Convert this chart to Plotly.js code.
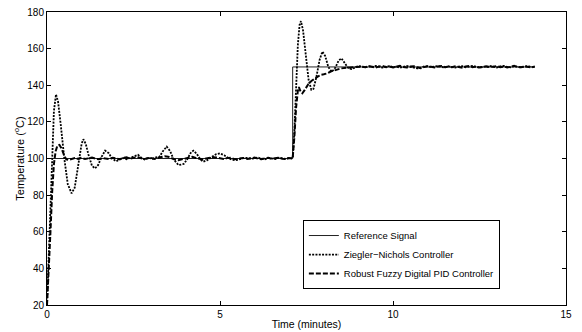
<!DOCTYPE html>
<html>
<head>
<meta charset="utf-8">
<script src="https://cdn.plot.ly/plotly-3.0.1.min.js"></script>
<style>html,body{margin:0;padding:0;background:#fff;}#chart{width:582px;height:332px;}</style>
</head>
<body>
<div id="chart"></div>
<script>
// Reference signal
var refTime = [0, 7.1, 7.1, 14.1];
var refTemp = [100, 100, 150, 150];

// Ziegler-Nichols controller response
var znTime = [0,0.05,0.1,0.15,0.2,0.26,0.32,0.4,0.5,0.6,0.71,0.8,0.9,1.0,1.05,1.12,1.2,1.3,1.39,1.48,1.58,1.68,1.78,1.88,2.0,2.1,2.2,2.3,2.4,2.5,2.63,2.72,2.82,2.95,3.05,3.15,3.25,3.35,3.46,3.56,3.66,3.8,3.95,4.05,4.15,4.23,4.33,4.43,4.52,4.62,4.75,4.88,5.0,5.12,5.25,5.35,5.45,5.6,5.7,5.8,5.9,6.0,6.1,6.2,6.3,6.4,6.5,6.6,6.7,6.8,6.9,7.0,7.1,
  7.15,7.2,7.25,7.3,7.34,7.4,7.48,7.56,7.64,7.7,7.78,7.88,7.96,8.04,8.13,8.23,8.33,8.43,8.51,8.6,8.7,8.8,8.9,9.0,
  9.1,9.2,9.3,9.4,9.5,9.6,9.7,9.8,9.9,10.0,10.1,10.2,10.3,10.4,10.5,10.6,10.7,10.8,10.9,11.0,11.1,11.2,11.3,11.4,11.5,11.6,11.7,11.8,11.9,12.0,12.1,12.2,12.3,12.4,12.5,12.6,12.7,12.8,12.9,13.0,13.1,13.2,13.3,13.4,13.5,13.6,13.7,13.8,13.9,14.0,14.1];
var znTemp = [20,45,75,105,126,135,131,118,100,86,81,84,96,108,110.5,108,102,96,94.6,96.5,101,104.3,103,100,98.5,99.2,100.3,99.6,100.2,100.8,102,100.5,99.5,100.4,99.8,100.6,101,104,106.5,104,99.5,96.4,97,99.5,103,104.3,102.5,99.5,98.3,99,100.8,102.3,102.8,101.8,100.2,99.3,99,99.8,100.3,100.4,99.8,100.2,100.5,99.9,99.6,100.3,100.1,99.7,100.4,100.2,99.8,100.3,100,
  115,140,162,173,175,170,157,143,137.5,138,144,154,158.4,156,150,147.3,149.5,153.5,154.7,152.5,149.5,148.8,149.8,150.5,
  150.3,149.7,150.4,149.9,150.6,150.1,149.6,150.2,150.5,149.8,150.3,149.6,150.1,150.6,150,149.7,149.2,149.5,150.3,150.4,149.9,150.2,150.5,150,149.7,150.3,150.1,149.6,150.2,150.4,149.8,150.3,150.6,150,149.6,150.2,149.9,150.5,150.1,149.7,150.3,150.6,150,149.8,150.4,150.1,149.7,150.2,150.5,149.9,150.2];

// Robust fuzzy digital PID controller response
var fzTime = [0,0.05,0.1,0.15,0.2,0.25,0.3,0.36,0.42,0.5,0.56,0.62,0.7,
  0.8,0.9,1.0,1.1,1.2,1.3,1.4,1.5,1.6,1.7,1.8,1.9,2.0,2.1,2.2,2.3,2.4,2.5,2.6,2.7,2.8,2.9,3.0,3.1,3.2,3.3,3.4,3.5,3.6,3.7,3.8,3.9,4.0,4.1,4.2,4.3,4.4,4.5,4.6,4.7,4.8,4.9,5.0,5.1,5.2,5.3,5.4,5.5,5.6,5.7,5.8,5.9,6.0,6.1,6.2,6.3,6.4,6.5,6.6,6.7,6.8,6.9,7.0,7.1,
  7.15,7.2,7.25,7.28,7.33,7.38,7.45,7.55,7.65,7.75,7.9,8.0,8.1,8.2,8.35,8.5,8.65,8.8,9.0,
  9.1,9.2,9.3,9.4,9.5,9.6,9.7,9.8,9.9,10.0,10.1,10.2,10.3,10.4,10.5,10.6,10.7,10.8,10.9,11.0,11.1,11.2,11.3,11.4,11.5,11.6,11.7,11.8,11.9,12.0,12.1,12.2,12.3,12.4,12.5,12.6,12.7,12.8,12.9,13.0,13.1,13.2,13.3,13.4,13.5,13.6,13.7,13.8,13.9,14.0,14.1];
var fzTemp = [20,38,60,82,97,104,107,107.4,105.5,101.5,99.5,99.2,99.8,
  100.3,99.8,100.4,99.7,100.2,100.5,99.9,99.6,100.3,100.1,99.7,100.4,100,99.6,100.3,100.6,99.9,100.2,100.8,100.3,99.6,100.1,100.4,99.8,100.2,100.7,101.2,101,100.2,99.4,99.1,99.6,100.2,100.6,100.9,100.3,99.7,99.5,100,100.4,100.7,100.5,100.1,99.7,100.2,100.4,99.8,99.5,100.1,100.3,99.8,100.2,100.5,99.9,99.6,100.1,100.4,99.8,100.2,100.5,99.9,99.7,100.2,100,
  112,128,137,139,136.5,135.6,137.5,140.5,142.5,143.8,145.6,146,146.5,147.5,148.5,149.2,149.5,149.8,150.2,
  150.2,149.8,150.4,150.1,149.6,150.3,150.5,149.9,150.2,149.7,150.3,150.6,150,149.7,150.2,150.4,149.8,149.3,149.9,150.4,150.1,149.7,150.3,150.5,149.9,150.2,149.8,150.4,150,149.6,150.2,150.5,149.9,150.3,149.7,150.1,150.4,149.8,150.2,150.5,149.9,150.2,149.7,150.3,150.6,150,149.8,150.3,150.1,149.7,150.2];

var xTicks = [0, 5, 10, 15];
var yTicks = [20, 40, 60, 80, 100, 120, 140, 160, 180];

var FONT = 'Liberation Sans, Arial, Helvetica, sans-serif';

var traces = [
  {x: refTime, y: refTemp, type: 'scatter', mode: 'lines', name: 'Reference Signal',
   line: {color: '#222', width: 1}},
  {x: znTime, y: znTemp, type: 'scatter', mode: 'lines', name: 'Ziegler\u2212Nichols Controller',
   line: {color: '#000', width: 1.8, dash: '2px,1.3px'}},
  {x: fzTime, y: fzTemp, type: 'scatter', mode: 'lines', name: 'Robust Fuzzy Digital PID Controller',
   line: {color: '#000', width: 2, dash: '5px,2px'}}
];

var axisCommon = {
  showgrid: false, zeroline: false, showline: true, linecolor: '#000', linewidth: 1,
  mirror: 'ticks', ticks: 'inside', ticklen: 4, tickcolor: '#000',
  tickfont: {family: FONT, size: 10, color: '#000'}
};

var layout = {
  width: 582, height: 332,
  margin: {l: 47, r: 16, t: 12, b: 27},
  paper_bgcolor: '#fff', plot_bgcolor: '#fff',
  font: {family: FONT, size: 10, color: '#000'},
  showlegend: true,
  xaxis: Object.assign({}, axisCommon, {
    range: [0, 15], tickvals: xTicks, ticktext: xTicks.map(String),
    title: {text: 'Time (minutes)', font: {family: FONT, size: 10.5, color: '#000'}, standoff: 1}
  }),
  yaxis: Object.assign({}, axisCommon, {
    range: [20, 180], tickvals: yTicks, ticktext: yTicks.map(String),
    title: {text: 'Temperature (<sup>o</sup>C)', font: {family: FONT, size: 11, color: '#000'}, standoff: 0}
  }),
  legend: {
    x: 0.493, y: 0.29, xanchor: 'left', yanchor: 'top',
    bgcolor: '#fff', bordercolor: '#000', borderwidth: 1,
    font: {family: FONT, size: 9.5, color: '#000'},
    itemwidth: 30, tracegroupgap: 0
  }
};

Plotly.newPlot('chart', traces, layout, {displayModeBar: false, staticPlot: true});
</script>
</body>
</html>
